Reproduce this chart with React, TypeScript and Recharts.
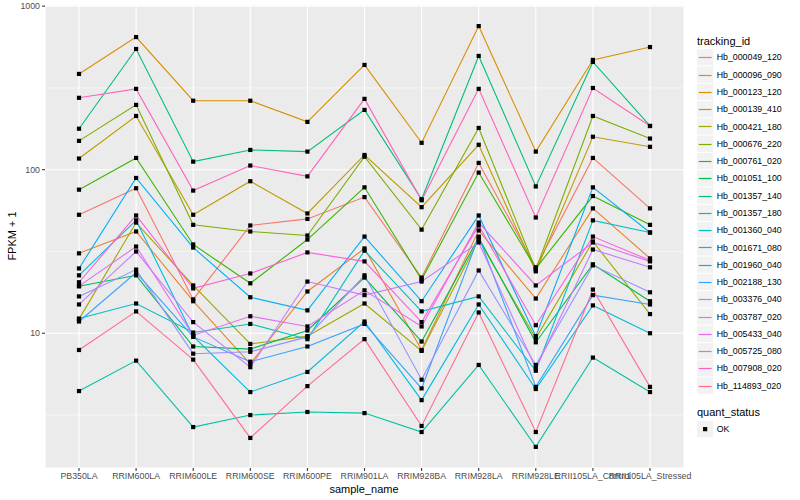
import React from 'react';
import { LineChart, Line, XAxis, YAxis, CartesianGrid, ReferenceLine } from 'recharts';

const categories = [
  'PB350LA', 'RRIM600LA', 'RRIM600LE', 'RRIM600SE', 'RRIM600PE', 'RRIM901LA',
  'RRIM928BA', 'RRIM928LA', 'RRIM928LE', 'RRII105LA_Control', 'RRII105LA_Stressed',
];

const trackingIds = [
  'Hb_000049_120', 'Hb_000096_090', 'Hb_000123_120', 'Hb_000139_410', 'Hb_000421_180',
  'Hb_000676_220', 'Hb_000761_020', 'Hb_001051_100', 'Hb_001357_140', 'Hb_001357_180',
  'Hb_001360_040', 'Hb_001671_080', 'Hb_001960_040', 'Hb_002188_130', 'Hb_003376_040',
  'Hb_003787_020', 'Hb_005433_040', 'Hb_005725_080', 'Hb_007908_020', 'Hb_114893_020',
];

const colors = [
  '#F8766D', '#EA8331', '#D89000', '#C09B00', '#A3A500', '#7CAE00', '#39B600', '#00BB4E',
  '#00BF7D', '#00C1A3', '#00BFC4', '#00BAE0', '#00B0F6', '#35A2FF', '#9590FF', '#C77CFF',
  '#E76BF3', '#FA62DB', '#FF62BC', '#FF6C91',
];

// FPKM + 1 values, one entry per sample_name
const hb000049_120 = [53, 77, 16.1, 45.6, 50, 68, 21.9, 110, 25.3, 118, 58];
const hb000096_090 = [30.8, 41.9, 15.7, 6.5, 18, 33, 7.9, 42.5, 16.3, 58, 28.7];
const hb000123_120 = [385, 647, 264, 264, 196, 437, 146, 755, 129, 469, 562];
const hb000139_410 = [117, 213, 53, 85, 54, 123, 59, 142, 23.9, 159, 138];
const hb000421_180 = [12.2, 47.5, 19.6, 8.6, 9.6, 15.2, 7.8, 37.4, 9.3, 36.4, 13.1];
const hb000676_220 = [150, 249, 46, 41.9, 39.6, 120, 43, 180, 24.5, 213, 155];
const hb000761_020 = [75.5, 118, 34.9, 20.2, 37.4, 78, 21.3, 96, 24.9, 69, 46];
const hb001051_100 = [19.4, 22.6, 8.3, 8, 10.4, 21.9, 8.9, 38.5, 8.8, 26.4, 15.7];
const hb001357_140 = [178, 547, 112, 132, 129, 232, 66, 496, 79, 456, 185];
const hb001357_180 = [4.43, 6.8, 2.67, 3.16, 3.3, 3.25, 2.49, 6.4, 2.02, 7.1, 4.37];
const hb001360_040 = [12.3, 15.2, 10.1, 11.4, 9.2, 32, 13.6, 16.8, 5.9, 49, 41.3];
const hb001671_080 = [22.6, 49, 9.6, 4.37, 5.8, 11.8, 3.9, 15, 4.56, 14.8, 10];
const hb001960_040 = [24.9, 89, 33.4, 16.6, 13.8, 39, 15.7, 52.5, 9.6, 78, 41.3];
const hb002188_130 = [11.8, 23.5, 9.5, 6.7, 8.3, 11.4, 4.6, 39, 4.7, 17.1, 15];
const hb003376_040 = [16.8, 24.5, 7.5, 7.7, 9.5, 22.6, 5.2, 24.2, 6.4, 26, 17.8];
const hb003787_020 = [15, 31.6, 11.7, 6.2, 20.7, 17.1, 20.7, 35.9, 6.1, 32.5, 25.3];
const hb005433_040 = [19.4, 33.9, 9.7, 12.7, 11, 18.3, 11, 47.5, 19.6, 35.9, 27.5];
const hb005725_080 = [20.5, 52.5, 18.8, 23.2, 31.2, 27.5, 11.7, 45.6, 11.2, 39, 27.9];
const hb007908_020 = [275, 312, 74.5, 106, 91, 271, 65, 312, 51, 316, 185];
const hb114893_020 = [7.9, 13.6, 6.9, 2.29, 4.75, 9.2, 2.71, 13.4, 2.49, 18.5, 4.7];

const seriesValues = [
  hb000049_120, hb000096_090, hb000123_120, hb000139_410, hb000421_180,
  hb000676_220, hb000761_020, hb001051_100, hb001357_140, hb001357_180,
  hb001360_040, hb001671_080, hb001960_040, hb002188_130, hb003376_040,
  hb003787_020, hb005433_040, hb005725_080, hb007908_020, hb114893_020,
];

const yTicks = [10, 100, 1000];
const minorBreaks = [3.1623, 31.623, 316.23];
const quantStatus = ['OK'];

const data = categories.map((c, i) => {
  const row: Record<string, any> = { sample_name: c };
  trackingIds.forEach((id, k) => {
    row[id] = seriesValues[k][i];
  });
  return row;
});

const FONT = '"Liberation Sans", Arial, Helvetica, sans-serif';

const SquareDot = (props: any) => {
  const { cx, cy, index } = props;
  if (cx == null || cy == null) return <g key={`d-${index}`} />;
  return <rect key={`d-${index}`} x={cx - 2.1} y={cy - 2.1} width={4.2} height={4.2} fill="#000000" />;
};

const KEY = 17.28;
const LEG_X = 697;
const LEG_Y0 = 48.7;

export default function App() {
  return (
    <div style={{ position: 'absolute', left: 0, top: 0, width: 800, height: 500, background: '#ffffff', fontFamily: FONT, overflow: 'hidden' }}>
      <LineChart width={800} height={500} data={data} margin={{ top: 5, right: 116, bottom: 2, left: 5 }}>
        <CartesianGrid fill="#EBEBEB" stroke="#FFFFFF" strokeWidth={1.1} strokeDasharray="0" />
        {minorBreaks.map((v) => (
          <ReferenceLine key={`m-${v}`} y={v} stroke="#FFFFFF" strokeWidth={0.55} ifOverflow="hidden" />
        ))}
        <XAxis
          dataKey="sample_name"
          type="category"
          interval={0}
          padding={{ left: 34, right: 34 }}
          height={30}
          axisLine={false}
          tickSize={3}
          tickMargin={2}
          tickLine={{ stroke: '#333333', strokeWidth: 1.07 }}
          tick={{ fill: '#4D4D4D', fontSize: 8.8, fontFamily: FONT }}
        />
        <YAxis
          type="number"
          scale="log"
          domain={[1.5, 1016]}
          allowDataOverflow
          ticks={yTicks}
          width={40}
          axisLine={false}
          tickSize={3}
          tickMargin={2}
          tickLine={{ stroke: '#333333', strokeWidth: 1.07 }}
          tick={{ fill: '#4D4D4D', fontSize: 8.8, fontFamily: FONT }}
        />
        {trackingIds.map((id, k) => (
          <Line
            key={`l-${id}`}
            dataKey={id}
            stroke={colors[k]}
            strokeWidth={1.1}
            dot={false}
            activeDot={false}
            isAnimationActive={false}
            type="linear"
          />
        ))}
        {trackingIds.map((id) => (
          <Line
            key={`p-${id}`}
            dataKey={id}
            stroke="none"
            strokeWidth={0}
            dot={SquareDot}
            activeDot={false}
            isAnimationActive={false}
            type="linear"
          />
        ))}
      </LineChart>

      <div style={{ position: 'absolute', left: 0, width: 24, top: 236, height: 0 }}>
        <div style={{ position: 'absolute', left: 12, top: 0, transform: 'translate(-50%, -50%) rotate(-90deg)', whiteSpace: 'nowrap', fontSize: 11, color: '#000' }}>
          FPKM + 1
        </div>
      </div>
      <div style={{ position: 'absolute', left: 364, top: 489, transform: 'translate(-50%, -50%)', whiteSpace: 'nowrap', fontSize: 11, color: '#000' }}>
        sample_name
      </div>

      <svg style={{ position: 'absolute', left: 0, top: 0 }} width={800} height={500}>
        <text x={LEG_X} y={44.5} fontSize={11} fontFamily={FONT} fill="#000">tracking_id</text>
        {trackingIds.map((id, k) => {
          const y = LEG_Y0 + k * KEY;
          const cy = Math.round(y + KEY / 2) + 0.5;
          return (
            <g key={`lg-${id}`}>
              <rect x={LEG_X} y={y + 0.5} width={KEY - 1} height={KEY - 1} fill="#F2F2F2" />
              <line x1={LEG_X + 1.7} x2={LEG_X + KEY - 2.7} y1={cy} y2={cy} stroke={colors[k]} strokeWidth={1.2} />
              <text x={LEG_X + 19.7} y={y + KEY / 2 + 3.1} fontSize={8.8} fontFamily={FONT} fill="#000">{id}</text>
            </g>
          );
        })}
        <text x={LEG_X} y={415.8} fontSize={11} fontFamily={FONT} fill="#000">quant_status</text>
        {quantStatus.map((q, k) => {
          const y = 420.5 + k * KEY;
          return (
            <g key={`q-${q}`}>
              <rect x={LEG_X} y={y + 0.5} width={KEY - 1} height={KEY - 1} fill="#F2F2F2" />
              <rect x={LEG_X + (KEY - 1) / 2 - 2.1} y={y + 0.5 + (KEY - 1) / 2 - 2.1} width={4.2} height={4.2} fill="#000" />
              <text x={LEG_X + 19.7} y={y + KEY / 2 + 3.1} fontSize={8.8} fontFamily={FONT} fill="#000">{q}</text>
            </g>
          );
        })}
      </svg>
    </div>
  );
}
